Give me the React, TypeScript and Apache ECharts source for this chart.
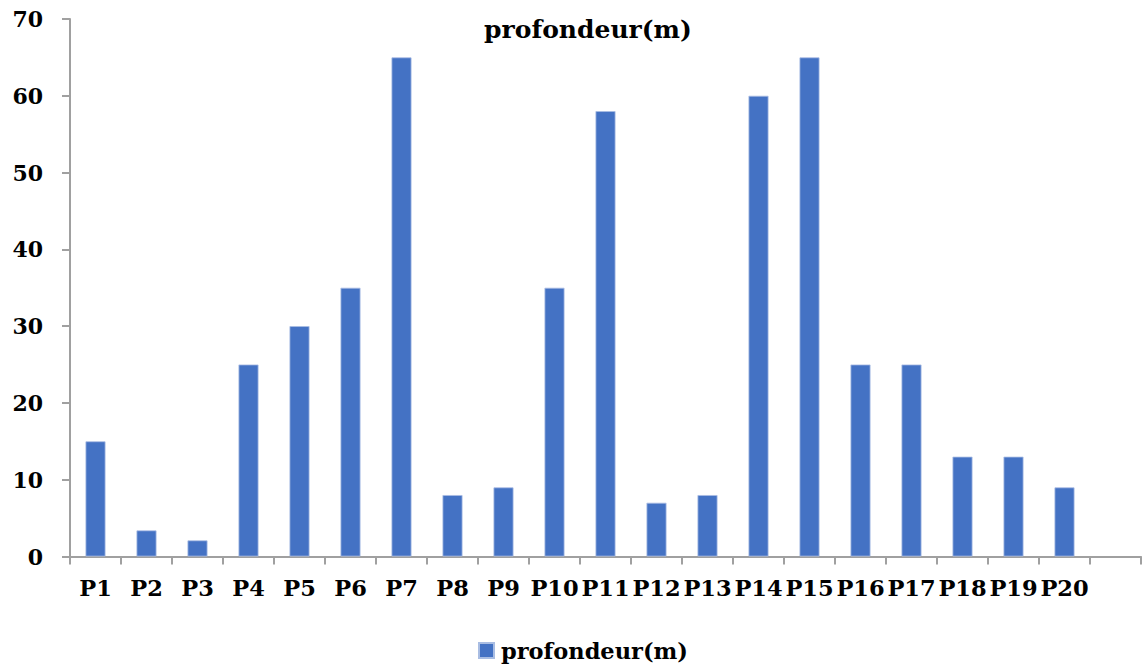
import React, { useEffect, useRef } from "react";
import * as echarts from "echarts";

// Well depths per borehole (m); trailing empty slot keeps the axis run-out
const categories = ["P1", "P2", "P3", "P4", "P5", "P6", "P7", "P8", "P9", "P10", "P11", "P12", "P13", "P14", "P15", "P16", "P17", "P18", "P19", "P20", ""];
const depths = [15, 3.4, 2.1, 25, 30, 35, 65, 8, 9, 35, 58, 7, 8, 60, 65, 25, 25, 13, 13, 9, null];
const seriesName = "profondeur(m)";
const FONT = "DejaVu Serif";

export default function App() {
  const ref = useRef<HTMLDivElement>(null);
  useEffect(() => {
    if (!ref.current) return;
    const chart = echarts.init(ref.current, null, { renderer: "svg" });
    chart.setOption({
      animation: false,
      backgroundColor: "#ffffff",
      title: {
        text: seriesName,
        left: 583,
        top: 12,
        textAlign: "center",
        textStyle: { fontFamily: FONT, fontSize: 25, fontWeight: "bold", color: "#000" },
      },
      legend: {
        data: [seriesName],
        bottom: 1,
        left: 473,
        itemWidth: 15,
        itemHeight: 15,
        itemGap: 6,
        icon: "rect",
        textStyle: { fontFamily: FONT, fontSize: 22.5, fontWeight: "bold", color: "#000", padding: [0, 0, 0, 2] },
      },
      grid: { left: 70, right: 1, top: 19, bottom: 111.5, containLabel: false },
      xAxis: {
        type: "category",
        data: categories,
        boundaryGap: true,
        axisLine: { lineStyle: { color: "#a0a0a0", width: 2 } },
        axisTick: { show: true, length: 8, lineStyle: { color: "#a0a0a0", width: 2 }, alignWithLabel: false },
        axisLabel: { interval: 0, margin: 20, fontFamily: FONT, fontSize: 22.5, fontWeight: "bold", color: "#000" },
      },
      yAxis: {
        type: "value",
        min: 0,
        max: 70,
        interval: 10,
        splitLine: { show: false },
        axisLine: { show: true, lineStyle: { color: "#a0a0a0", width: 2 } },
        axisTick: { show: true, length: 8, lineStyle: { color: "#a0a0a0", width: 2 } },
        axisLabel: { margin: 27, fontFamily: FONT, fontSize: 22, fontWeight: "bold", color: "#000" },
      },
      series: [
        {
          name: seriesName,
          type: "bar",
          data: depths,
          barWidth: 20,
          itemStyle: { color: "#4472c4", borderColor: "#a9bde3", borderWidth: 0.8 },
        },
      ],
    });
    return () => chart.dispose();
  }, []);
  return (
    <div
      ref={ref}
      style={{ position: "fixed", left: 0, top: 0, width: 1142, height: 668 }}
    />
  );
}
